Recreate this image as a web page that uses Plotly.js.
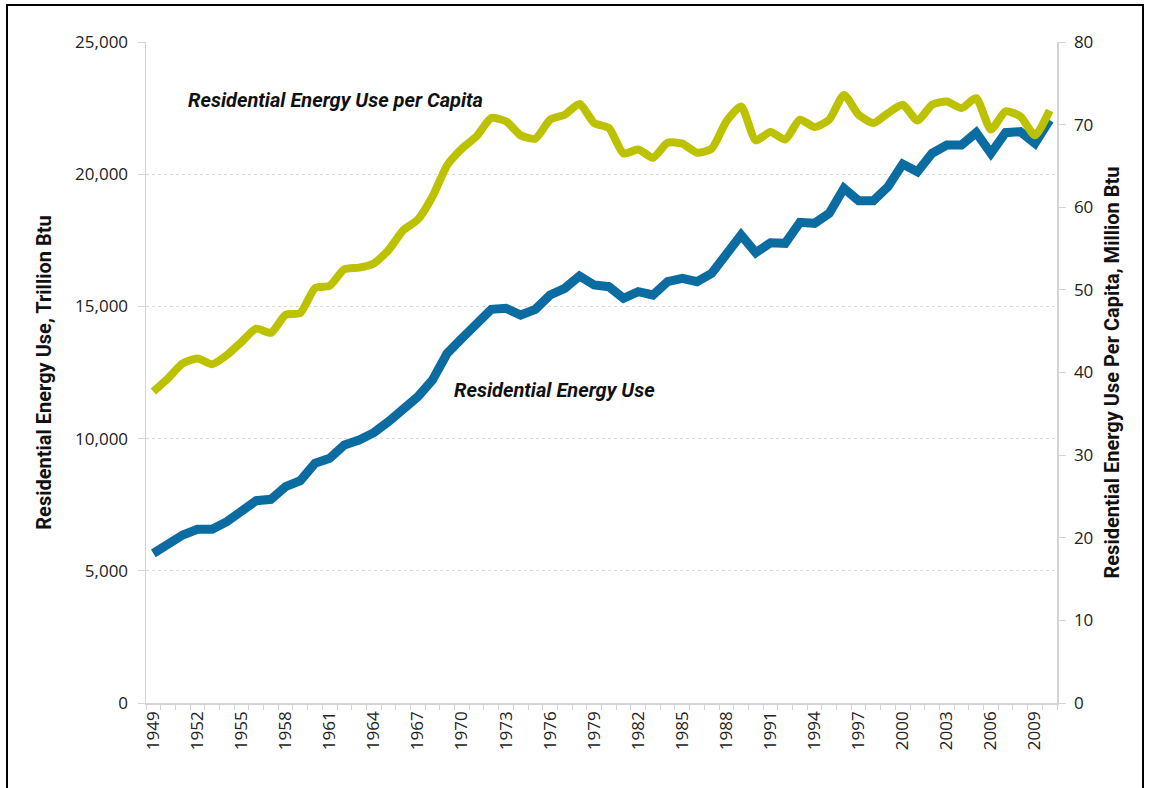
<!DOCTYPE html>
<html>
<head>
<meta charset="utf-8">
<script src="https://cdn.plot.ly/plotly-3.0.1.min.js"></script>
<style>
  html, body { margin: 0; padding: 0; background: #fff; }
  #chart { width: 1150px; height: 788px; }
  #frame { position: absolute; left: 6px; top: 4px; width: 1138px; height: 800px;
           border: 2px solid #000; pointer-events: none; box-sizing: border-box; }
</style>
</head>
<body>
<div id="chart"></div>
<div id="frame"></div>
<script>
const years = [1949,1950,1951,1952,1953,1954,1955,1956,1957,1958,1959,
  1960,1961,1962,1963,1964,1965,1966,1967,1968,1969,
  1970,1971,1972,1973,1974,1975,1976,1977,1978,1979,
  1980,1981,1982,1983,1984,1985,1986,1987,1988,1989,
  1990,1991,1992,1993,1994,1995,1996,1997,1998,1999,
  2000,2001,2002,2003,2004,2005,2006,2007,2008,2009,2010];

// Residential Energy Use, trillion Btu (left axis)
const energyUse = [5660,6040,6354,6570,6570,6857,7235,7651,7704,8181,8408,
  9065,9254,9758,9947,10223,10640,11107,11585,12216,13225,
  13793,14296,14889,14927,14674,14889,15431,15684,16150,15809,
  15746,15306,15557,15431,15935,16061,15935,16250,17007,17700,
  17031,17409,17385,18180,18142,18520,19466,18998,18998,19527,
  20385,20094,20790,21104,21104,21570,20790,21570,21608,21167,22049];

// Residential Energy Use per Capita, million Btu (right axis)
const perCapita = [37.7,39.3,41.1,41.7,41.0,42.1,43.7,45.3,44.8,47.0,47.2,
  50.2,50.5,52.5,52.7,53.2,54.8,57.2,58.5,61.3,65.1,
  67.1,68.6,70.8,70.4,68.7,68.3,70.6,71.2,72.5,70.2,
  69.6,66.5,67.0,66.0,67.8,67.7,66.6,67.1,70.4,72.2,
  68.1,69.1,68.2,70.6,69.7,70.6,73.6,71.2,70.2,71.4,
  72.4,70.5,72.4,72.8,72.0,73.2,69.4,71.6,71.0,68.7,71.7];

const yearLabels = ['1949','1952','1955','1958','1961','1964','1967','1970','1973','1976',
  '1979','1982','1985','1988','1991','1994','1997','2000','2003','2006','2009'];
const yearTickVals = yearLabels.map(Number);

const seriesNames = ['Residential Energy Use', 'Residential Energy Use per Capita'];

const tickFont = { family: 'Open Sans, Noto Sans, sans-serif', size: 17, color: '#222' };
const titleFont = { family: 'Roboto, sans-serif', size: 20, color: '#111', weight: 'bold' };
const noteFont = { family: 'Roboto, sans-serif', size: 20, color: '#111' };
const axisGray = '#d4d4d4';

const traces = [
  {
    x: years, y: energyUse, name: seriesNames[0], type: 'scatter', mode: 'lines',
    line: { color: '#0b6ca2', width: 9 }, yaxis: 'y', hoverinfo: 'x+y'
  },
  {
    x: years, y: perCapita, name: seriesNames[1], type: 'scatter', mode: 'lines',
    line: { color: '#bdc200', width: 8, shape: 'spline', smoothing: 0.6 }, yaxis: 'y2', hoverinfo: 'x+y'
  }
];

const layout = {
  width: 1150, height: 788,
  margin: { l: 146, r: 93, t: 42, b: 85 },
  paper_bgcolor: '#fff', plot_bgcolor: '#fff',
  showlegend: false,
  xaxis: {
    range: [1948.5, 2010.5],
    tickmode: 'array', tickvals: yearTickVals, ticktext: yearLabels,
    tickangle: -90, ticks: '', tickfont: tickFont,
    showgrid: false, zeroline: false,
    showline: true, linecolor: axisGray, linewidth: 1.5,
    minor: { ticks: 'outside', tickmode: 'linear', tick0: 1948.5, dtick: 1, ticklen: 5, tickcolor: axisGray, tickwidth: 1, showgrid: false }
  },
  yaxis: {
    range: [0, 25000], tickmode: 'linear', tick0: 0, dtick: 5000, tickformat: ',d',
    tickfont: tickFont, ticks: 'outside', ticklen: 7, tickcolor: axisGray, ticklabelstandoff: 6,
    showgrid: true, gridcolor: '#d9d9d9', griddash: 'dot', gridwidth: 1,
    zeroline: false, showline: true, linecolor: axisGray, linewidth: 1.5,
    title: { text: 'Residential Energy Use, Trillion Btu', font: titleFont, standoff: 18 }
  },
  yaxis2: {
    range: [0, 80], tickmode: 'linear', tick0: 0, dtick: 10,
    overlaying: 'y', side: 'right',
    tickfont: tickFont, ticks: 'outside', ticklen: 7, tickcolor: axisGray, ticklabelstandoff: 5,
    showgrid: false, zeroline: false, showline: true, linecolor: axisGray, linewidth: 1.5,
    title: { text: 'Residential Energy Use Per Capita, Million Btu', font: titleFont, standoff: 12 }
  },
  annotations: [
    {
      xref: 'paper', yref: 'paper', x: 0.044, y: 0.912, xanchor: 'left', yanchor: 'middle',
      text: '<b><i>' + seriesNames[1] + '</i></b>', showarrow: false, font: noteFont
    },
    {
      xref: 'paper', yref: 'paper', x: 0.336, y: 0.4735, xanchor: 'left', yanchor: 'middle',
      text: '<b><i>' + seriesNames[0] + '</i></b>', showarrow: false, font: noteFont
    }
  ]
};

Plotly.newPlot('chart', traces, layout, { displayModeBar: false, staticPlot: true });
</script>
</body>
</html>
